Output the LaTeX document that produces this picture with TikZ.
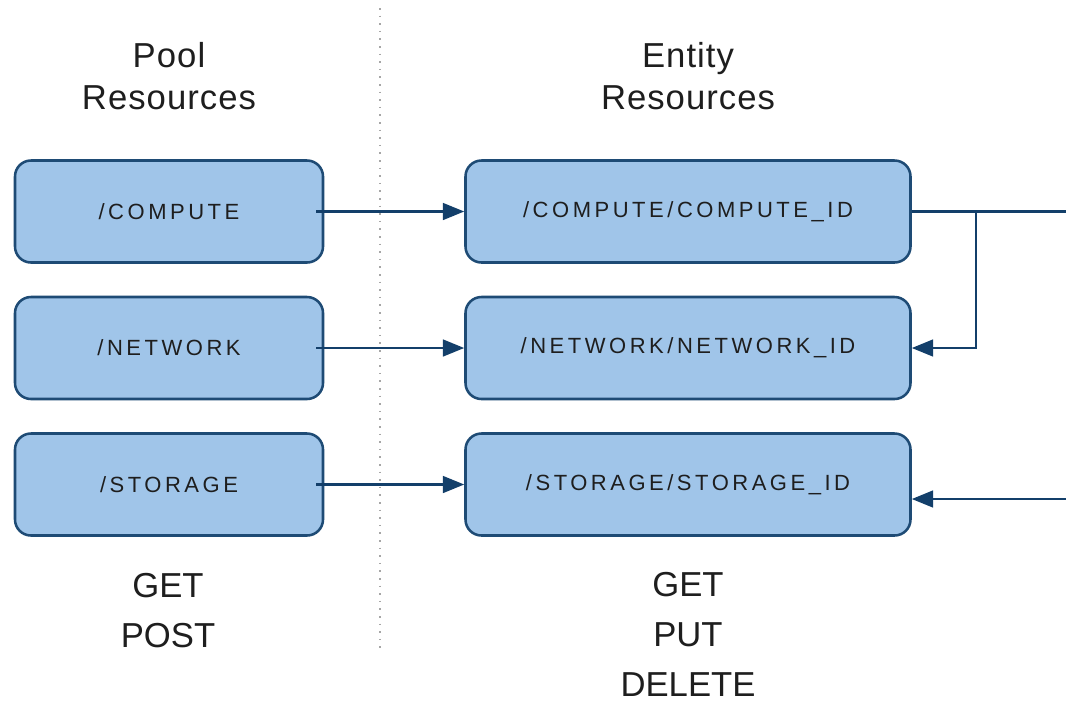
\documentclass[tikz,border=0pt]{standalone}
\usepackage{fontspec}
\setmainfont{Liberation Sans}
\usetikzlibrary{arrows.meta}
\definecolor{boxfill}{HTML}{A0C5E9}
\definecolor{boxline}{HTML}{1E4B75}
\definecolor{conn}{HTML}{133F6A}
\definecolor{txt}{HTML}{1E1E1E}
\tikzset{
  res/.style={draw=boxline, fill=boxfill, line width=1.9pt, rounded corners=12pt,
    minimum height=76.5pt, inner sep=0pt, text=txt,
    font=\fontsize{16.5}{20}\selectfont\addfontfeature{LetterSpace=16}},
  poolbox/.style={res, minimum width=231pt},
  entbox/.style={res, minimum width=333.75pt},
  head/.style={align=center, anchor=base, text=txt, inner sep=0pt,
    font=\fontsize{26}{31.5}\selectfont\addfontfeature{LetterSpace=3}},
  verbs/.style={align=center, anchor=base, text=txt, inner sep=0pt,
    font=\fontsize{26}{37.5}\selectfont},
  link/.style={draw=conn, line width=1.9pt, -{Triangle[length=16pt,width=12.5pt]}},
  plainlink/.style={draw=conn, line width=1.9pt},
  divider/.style={draw=gray!70, line width=0.9pt, dash pattern=on 1.2pt off 4.5pt}
}
\begin{document}
\begin{tikzpicture}[x=0.75pt,y=-0.75pt]
\useasboundingbox (0,0) rectangle (1066,701);
\fill[white] (0,0) rectangle (1066,701);
% divider
\coordinate (dtop) at (380,8);
\coordinate (dbot) at (380,648);
\draw[divider] (dtop) -- (dbot);
% headers (base anchor = baseline of the last line)
\node[head] (hpool) at (169,109) {Pool\\Resources};
\node[head] (hent) at (688,109) {Entity\\Resources};
% boxes
\node[poolbox] (c1) at (169,211.5) {/COMPUTE};
\node[poolbox] (n1) at (169,348) {/NETWORK};
\node[poolbox] (s1) at (169,484.5) {/STORAGE};
\node[entbox] (c2) at (688,211.5) {/COMPUTE/COMPUTE\_ID};
\node[entbox] (n2) at (688,348) {/NETWORK/NETWORK\_ID};
\node[entbox] (s2) at (688,484.5) {/STORAGE/STORAGE\_ID};
% verbs
\node[verbs] (vpool) at (168,647) {GET\\POST};
\node[verbs] (vent) at (688,696) {GET\\PUT\\DELETE};
% connectors
\draw[link] ([xshift=-6pt]c1.east) -- (c2.west);
\draw[link] ([xshift=-6pt]n1.east) -- (n2.west);
\draw[link] ([xshift=-6pt]s1.east) -- (s2.west);
\coordinate (outR) at (1066,211.5);
\coordinate (br) at (976,211.5);
\coordinate (inR) at (1066,499);
\draw[plainlink] (c2.east) -- (outR);
\draw[link] (br) |- (n2.east);
\draw[link] (inR) -- (s2.east |- inR);
\end{tikzpicture}
\end{document}
